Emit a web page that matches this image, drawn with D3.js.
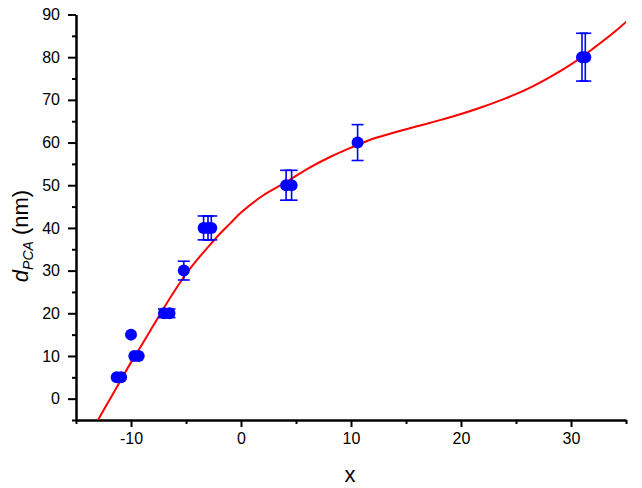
<!DOCTYPE html>
<html>
<head>
<meta charset="utf-8">
<script src="https://cdn.jsdelivr.net/npm/d3@7"></script>
<style>
  body { margin: 0; background: #fff; }
  svg { display: block; font-family: Arial, "Liberation Sans", sans-serif; }
</style>
</head>
<body>
<svg id="chart" width="642" height="488"></svg>
<script>
/* ---------------- DATA ---------------- */
const pointX   = [-11.3, -10.9, -10.0, -9.7, -9.3, -7.0, -6.5, -5.2, -3.4, -3.0, -2.7, 4.1, 4.6, 10.6, 31.0, 31.3];
const pointY   = [5, 5, 15, 10, 10, 20, 20, 30, 40, 40, 40, 50, 50, 60, 80, 80];
const pointErr = [0, 0, 0, 0, 0, 1, 1, 2.2, 2.8, 2.8, 2.8, 3.5, 3.5, 4.2, 5.6, 5.6];

const fitX = [-13, -12, -11, -10, -9, -8, -7, -6, -5, -4, -3, -2, -1, 0, 2, 4, 6, 8, 10, 12, 14, 16, 18, 20, 22, 24, 26, 28, 30, 32, 34, 35.2];
const fitY = [-5, -0.5, 4, 8.5, 12.7, 17, 21.3, 25.4, 29.2, 32.5, 35.5, 38.4, 41, 43.6, 47.6, 50.6, 53.8, 56.5, 58.8, 60.9, 62.4, 63.8, 65.2, 66.7, 68.4, 70.3, 72.5, 75.2, 78.3, 82, 86, 88.7];

const xTicks = [-15, -10, -5, 0, 5, 10, 15, 20, 25, 30, 35];
const yTicks = [-5, 0, 5, 10, 15, 20, 25, 30, 35, 40, 45, 50, 55, 60, 65, 70, 75, 80, 85, 90];

/* ---------------- SETUP ---------------- */
const svg = d3.select("#chart");
const plot = { left: 76, right: 626, top: 14.5, bottom: 420 };

const x = d3.scaleLinear().domain([-15, 35]).range([plot.left, plot.right]);
const y = d3.scaleLinear().domain([-5, 90]).range([plot.bottom, plot.top]);

svg.append("defs").append("clipPath").attr("id", "clip")
  .append("rect").attr("x", plot.left).attr("y", plot.top)
  .attr("width", plot.right - plot.left).attr("height", plot.bottom - plot.top);

/* ---------------- AXES ---------------- */
const isXLabel = d => d % 10 === 0 && d !== -15 && d !== 35;
const xAxis = d3.axisBottom(x).tickValues(xTicks)
  .tickSize(0).tickFormat(d => isXLabel(d) ? d : "");
const yAxis = d3.axisLeft(y).tickValues(yTicks)
  .tickSize(0).tickFormat(d => d % 10 === 0 ? d : "");

const gx = svg.append("g").attr("transform", `translate(0,${plot.bottom})`).call(xAxis);
const gy = svg.append("g").attr("transform", `translate(${plot.left},0)`).call(yAxis);

[gx, gy].forEach(g => {
  g.select(".domain").attr("stroke", "#000").attr("stroke-width", 2.5);
  g.selectAll(".tick text").attr("font-size", 16).attr("fill", "#000")
    .attr("font-family", "Arial, 'Liberation Sans', sans-serif");
});
gx.selectAll(".tick line")
  .attr("y2", d => isXLabel(d) ? 7 : 4)
  .attr("stroke", "#000").attr("stroke-width", 2);
gx.selectAll(".tick text").attr("y", 13);
gy.selectAll(".tick line")
  .attr("x2", d => d % 10 === 0 ? -8 : -4)
  .attr("stroke", "#000").attr("stroke-width", 2);
gy.selectAll(".tick text").attr("x", -16);

/* ---------------- AXIS TITLES ---------------- */
svg.append("text")
  .attr("x", 350).attr("y", 482)
  .attr("text-anchor", "middle").attr("font-size", 22)
  .text("x");

const yTitle = svg.append("text")
  .attr("transform", "translate(28,236) rotate(-90)")
  .attr("text-anchor", "middle").attr("font-size", 22);
yTitle.append("tspan").attr("font-style", "italic").text("d");
yTitle.append("tspan").attr("font-style", "italic").attr("font-size", 14).attr("dy", 5).text("PCA");
yTitle.append("tspan").attr("dy", -5).text(" (nm)");

/* ---------------- FIT CURVE ---------------- */
const fitData = fitX.map((v, i) => [v, fitY[i]]);
svg.append("path")
  .datum(fitData)
  .attr("clip-path", "url(#clip)")
  .attr("fill", "none")
  .attr("stroke", "#ff0000")
  .attr("stroke-width", 2)
  .attr("d", d3.line().x(d => x(d[0])).y(d => y(d[1])).curve(d3.curveCatmullRom));

/* ---------------- POINTS & ERROR BARS ---------------- */
const pts = pointX.map((v, i) => ({ x: v, y: pointY[i], e: pointErr[i] }));
const bars = svg.append("g").attr("stroke", "#0000ff").attr("stroke-width", 1.6);
pts.filter(d => d.e > 0).forEach(d => {
  const cx = x(d.x);
  bars.append("line").attr("x1", cx).attr("x2", cx).attr("y1", y(d.y - d.e)).attr("y2", y(d.y + d.e));
  [d.y - d.e, d.y + d.e].forEach(v => {
    bars.append("line").attr("x1", cx - 6).attr("x2", cx + 6).attr("y1", y(v)).attr("y2", y(v));
  });
});

svg.append("g").selectAll("circle")
  .data(pts)
  .enter()
  .append("circle")
  .attr("cx", d => x(d.x))
  .attr("cy", d => y(d.y))
  .attr("r", 6)
  .attr("fill", "#0000ff");
</script>
</body>
</html>
